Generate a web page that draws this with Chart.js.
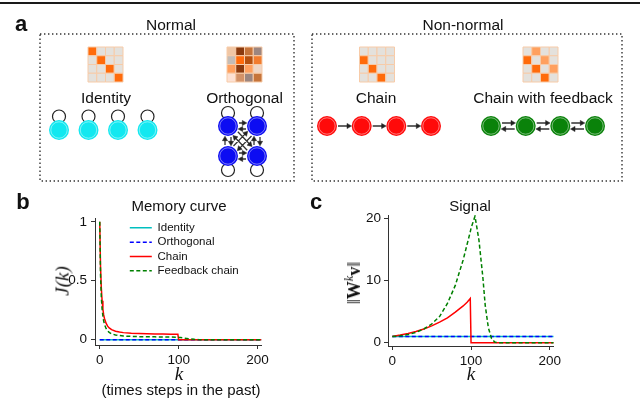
<!DOCTYPE html>
<html>
<head>
<meta charset="utf-8">
<title>Normal and non-normal networks: memory curve and signal</title>
<script src="https://cdn.jsdelivr.net/npm/chart.js@4.4.1/dist/chart.umd.min.js"></script>
<style>
  html, body { margin: 0; padding: 0; background: #fff; }
  body { position: relative; width: 640px; height: 399px; overflow: hidden;
         font-family: "Liberation Sans", Arial, sans-serif; color: #111; }
  .box { position: absolute; }
  .txt { position: absolute; transform: translate(-50%, -50%); white-space: nowrap; line-height: 1; }
  .panel { font-weight: bold; font-size: 22px; }
  .name { font-size: 15.5px; }
  .title { font-size: 15px; }
  .math { font-family: "Liberation Serif", "DejaVu Serif", serif; font-style: italic; font-size: 19px; }
  .rot { transform: translate(-50%, -50%) rotate(-90deg); }
  .norm { font-family: "Liberation Serif", "DejaVu Serif", serif; font-size: 18px; }
  .norm sup { font-size: 12px; font-style: italic; vertical-align: 7px; }
</style>
</head>
<body>
<div class="box" style="left:0;top:2px;width:640px;height:2px;background:#1a1a1a"></div>

<div class="box" style="left:0;top:0;width:640px;height:190px"><canvas id="netChart"></canvas></div>
<div class="box" style="left:0;top:185px;width:320px;height:214px"><canvas id="memChart"></canvas></div>
<div class="box" style="left:320px;top:185px;width:320px;height:214px"><canvas id="sigChart"></canvas></div>

<div class="txt panel" style="left:21px;top:24px">a</div>
<div class="txt name" style="left:171px;top:25px">Normal</div>
<div class="txt name" style="left:463px;top:25px">Non-normal</div>
<div class="txt name" style="left:106px;top:98px">Identity</div>
<div class="txt name" style="left:244.5px;top:98px">Orthogonal</div>
<div class="txt name" style="left:376px;top:98px">Chain</div>
<div class="txt name" style="left:543px;top:98px">Chain with feedback</div>

<div class="txt panel" style="left:23px;top:202px">b</div>
<div class="txt panel" style="left:316px;top:202px">c</div>
<div class="txt title" style="left:179px;top:205px">Memory curve</div>
<div class="txt title" style="left:470px;top:205px">Signal</div>
<div class="txt math rot" style="left:62px;top:281px">J(k)</div>
<div class="txt math" style="left:179px;top:373px">k</div>
<div class="txt title" style="left:181px;top:389px">(times steps in the past)</div>
<div class="txt math" style="left:471px;top:373px">k</div>
<div class="txt norm rot" style="left:353px;top:283px">‖<b>W</b><sup>k</sup><b>v</b>‖</div>

<script>
// ---- panel a: connectivity matrices (shade index, 0 = no connection) ----
const identityW   = [[1,0,0,0],[0,1,0,0],[0,0,1,0],[0,0,0,1]];
const orthogonalW = [[3,4,5,6],[7,1,8,12],[2,4,2,11],[9,10,6,5]];
const chainW      = [[0,0,0,0],[1,0,0,0],[0,1,0,0],[0,0,1,0]];
const feedbackW   = [[0,2,0,0],[1,0,2,0],[0,1,0,2],[0,0,1,0]];

// ---- panel b: memory curve J(k) ----
const memK        = [0,1,2,3,4,5,6,8,10,12,15,20,25,30,40,50,60,70,80,90,99,100,105,110,115,120,125,130,205];
const memChain    = [1,0.62,0.44,0.33,0.26,0.21,0.18,0.14,0.115,0.1,0.085,0.072,0.065,0.06,0.055,0.052,0.05,0.049,0.048,0.047,0.046,0,0,0,0,0,0,0,0];
const memFeedback = [1,0.55,0.36,0.26,0.2,0.16,0.13,0.095,0.075,0.062,0.05,0.04,0.035,0.031,0.028,0.026,0.025,0.024,0.023,0.022,0.021,0.02,0.016,0.011,0.006,0.003,0.001,0,0];
const memFlatK    = [0,205];
const memIdentity   = [0,0];
const memOrthogonal = [0,0];

// ---- panel c: signal ||W^k v|| ----
const sigK        = [0,10,20,30,40,50,60,70,80,90,95,99,100,105,110,115,118,122,126,130,135,205];
const sigChain    = [1,1.22,1.49,1.8,2.2,2.7,3.3,4.0,4.9,5.9,6.5,7.1,0,0,0,0,0,0,0,0,0,0];
const sigFeedback = [1,1.1,1.3,1.65,2.2,3.0,4.2,6.3,9.2,13.3,15.8,17.8,18.4,20.3,16.5,10.5,6.0,2.4,0.7,0.1,0,0];
const sigFlatK    = [0,205];
const sigIdentity   = [1,1];
const sigOrthogonal = [1,1];

// ---- tick labels ----
const kTicks   = [0,100,200];
const memTicks = [0,0.5,1];
const sigTicks = [0,10,20];

// ---- styles ----
const matrixPalette = ['#e4e1dc','#ff6b0b','#ffa05e','#f0c6a4','#8a3a0e','#c6743a','#9c8680',
                       '#c4bcb6','#b5500f','#fde1d3','#d39268','#efd6c5','#f27c2e'];
const C_ID = '#00bfbf', C_ORTH = '#0000ff', C_CHAIN = '#ff0000', C_FB = '#008000';
const FONT = "'Liberation Sans', Arial, sans-serif";

function zip(xs, ys) { return xs.map((x, i) => ({ x: x, y: ys[i] })); }

// ------------------------------------------------------------------ panel a
const NODE_R = 10;
const CELL = 8.75;
const networks = [
  { W: identityW,   color: '#12e8f0', mx: 88,    my: 47, nx: [59, 88.5, 118, 147.5],   ny: [130,130,130,130], loopDy: [-13.5,-13.5,-13.5,-13.5] },
  { W: orthogonalW, color: '#0c0cf2', mx: 227,   my: 47, nx: [228, 257, 228, 257],     ny: [126,126,156,156], loopDy: [-13,-13,14,14] },
  { W: chainW,      color: '#ff0a0a', mx: 359.5, my: 47, nx: [327, 361.7, 396.3, 431], ny: [126,126,126,126], loopDy: [0,0,0,0] },
  { W: feedbackW,   color: '#0a820a', mx: 523,   my: 47, nx: [491, 525.7, 560.3, 595], ny: [126,126,126,126], loopDy: [0,0,0,0] }
];

const cellPts = [], cellCols = [];
const edgePts = [], arrowPts = [], arrowRot = [];
const loopPts = [], nodePts = [], nodeCols = [];

networks.forEach(net => {
  const W = net.W, n = W.length;
  for (let r = 0; r < n; r++) {
    for (let c = 0; c < n; c++) {
      cellPts.push({ x: net.mx + (c + 0.5) * CELL, y: net.my + (r + 0.5) * CELL });
      cellCols.push(matrixPalette[W[r][c]]);
    }
  }
  for (let j = 0; j < n; j++) {        // source node
    for (let i = 0; i < n; i++) {      // target node
      if (!W[i][j]) continue;
      if (i === j) { loopPts.push({ x: net.nx[i], y: net.ny[i] + net.loopDy[i] }); continue; }
      const dx = net.nx[i] - net.nx[j], dy = net.ny[i] - net.ny[j];
      const len = Math.hypot(dx, dy), ux = dx / len, uy = dy / len;
      const off = W[j][i] ? 3 : 0;
      const ox = uy * off, oy = -ux * off;
      edgePts.push({ x: net.nx[j] + ux * (NODE_R + 1) + ox, y: net.ny[j] + uy * (NODE_R + 1) + oy });
      edgePts.push({ x: net.nx[i] - ux * (NODE_R + 3.5) + ox, y: net.ny[i] - uy * (NODE_R + 3.5) + oy });
      edgePts.push({ x: null, y: null });
      arrowPts.push({ x: net.nx[i] - ux * (NODE_R + 3.2) + ox, y: net.ny[i] - uy * (NODE_R + 3.2) + oy });
      arrowRot.push(Math.atan2(uy, ux) * 180 / Math.PI + 90);
    }
  }
  net.nx.forEach((x, k) => { nodePts.push({ x: x, y: net.ny[k] }); nodeCols.push(net.color); });
});

const boxPts = [
  { x: 40, y: 34 }, { x: 294, y: 34 }, { x: 294, y: 181 }, { x: 40, y: 181 }, { x: 40, y: 34 },
  { x: null, y: null },
  { x: 312, y: 34 }, { x: 622, y: 34 }, { x: 622, y: 181 }, { x: 312, y: 181 }, { x: 312, y: 34 }
];

new Chart(document.getElementById('netChart'), {
  type: 'line',
  data: {
    datasets: [
      { data: boxPts, borderColor: '#333', borderWidth: 1.4, borderDash: [1.4, 2.6], pointRadius: 0, order: 9 },
      { data: loopPts, showLine: false, pointStyle: 'circle', pointRadius: 6.5,
        pointBackgroundColor: 'rgba(0,0,0,0)', pointBorderColor: '#222', pointBorderWidth: 1.2, order: 8 },
      { data: edgePts, borderColor: '#333', borderWidth: 1.3, pointRadius: 0, order: 7 },
      { data: nodePts, showLine: false, pointRadius: NODE_R, pointBackgroundColor: nodeCols,
        pointBorderColor: nodeCols, pointBorderWidth: 0, order: 6 },
      { data: nodePts, showLine: false, pointRadius: 8.2, pointBackgroundColor: 'rgba(0,0,0,0)',
        pointBorderColor: 'rgba(255,255,255,0.45)', pointBorderWidth: 1, order: 5 },
      { data: arrowPts, showLine: false, pointStyle: 'triangle', pointRadius: 3, pointRotation: arrowRot,
        pointBackgroundColor: '#222', pointBorderColor: '#222', pointBorderWidth: 0.5, order: 4 },
      { data: cellPts, showLine: false, pointStyle: 'rect', pointRadius: CELL / Math.SQRT2,
        pointBackgroundColor: cellCols, pointBorderColor: '#f7cba8', pointBorderWidth: 1, order: 3 }
    ]
  },
  options: {
    responsive: true, maintainAspectRatio: false, animation: false,
    events: [],
    layout: { padding: 0, autoPadding: false },
    scales: {
      x: { type: 'linear', min: 0, max: 640, display: false },
      y: { type: 'linear', min: 0, max: 190, reverse: true, display: false }
    },
    plugins: { legend: { display: false }, tooltip: { enabled: false } }
  }
});

// ------------------------------------------------------------------ panels b, c
function axis(min, max, tickVals, size, pad) {
  return {
    type: 'linear', min: min, max: max,
    afterBuildTicks: s => { s.ticks = tickVals.map(v => ({ value: v })); },
    afterFit: s => { if (s.isHorizontal()) s.height = size; else s.width = size; },
    grid: { drawOnChartArea: false, drawTicks: true, tickLength: 4, color: '#333', lineWidth: 1 },
    border: { display: true, color: '#333', width: 1 },
    ticks: { autoSkip: false, maxRotation: 0, padding: pad, color: '#111',
             font: { family: FONT, size: 13.5 }, callback: v => String(v) }
  };
}

function series(label, xs, ys, color, dashed, order) {
  return { label: label, data: zip(xs, ys), borderColor: color, backgroundColor: color, borderWidth: 1.5,
           borderDash: dashed ? [4, 2.5] : [], pointRadius: 0, tension: 0, fill: false, order: order };
}

// put the in-plot legend where the original sits (relative to the plot area)
const legendShift = {
  id: 'legendShift',
  afterLayout(chart, args, opts) {
    const lg = chart.legend, area = chart.chartArea;
    if (lg && opts.dx !== undefined) {
      lg.left = area.left + opts.dx;
      lg.right = area.right;
      lg.top = area.top + opts.dy;
      lg.bottom = area.bottom;
    }
  }
};

new Chart(document.getElementById('memChart'), {
  type: 'line',
  data: {
    datasets: [
      series('Identity', memFlatK, memIdentity, C_ID, false, 4),
      series('Orthogonal', memFlatK, memOrthogonal, C_ORTH, true, 3),
      series('Chain', memK, memChain, C_CHAIN, false, 2),
      series('Feedback chain', memK, memFeedback, C_FB, true, 1)
    ]
  },
  options: {
    responsive: true, maintainAspectRatio: false, animation: false, events: [],
    layout: { padding: { left: 50, right: 58.5, top: 33.3, bottom: 24 }, autoPadding: false },
    scales: { x: axis(-6, 205, kTicks, 30, 3), y: axis(-0.045, 1.03, memTicks, 45, 4) },
    plugins: {
      tooltip: { enabled: false },
      legend: {
        position: 'chartArea', align: 'start',
        labels: {
          usePointStyle: true, pointStyle: 'line', pointStyleWidth: 22, padding: 2.8,
          color: '#111', font: { family: FONT, size: 11.5 },
          generateLabels(chart) {
            return chart.data.datasets.map((ds, i) => ({
              text: ds.label, datasetIndex: i, hidden: false, fontColor: '#111',
              strokeStyle: ds.borderColor, fillStyle: ds.borderColor, lineWidth: ds.borderWidth,
              lineDash: ds.borderDash, lineCap: 'butt', pointStyle: 'line'
            }));
          }
        }
      },
      legendShift: { dx: 32, dy: 1 }
    }
  },
  plugins: [legendShift]
});

new Chart(document.getElementById('sigChart'), {
  type: 'line',
  data: {
    datasets: [
      series('Identity', sigFlatK, sigIdentity, C_ID, false, 4),
      series('Orthogonal', sigFlatK, sigOrthogonal, C_ORTH, true, 3),
      series('Chain', sigK, sigChain, C_CHAIN, false, 2),
      series('Feedback chain', sigK, sigFeedback, C_FB, true, 1)
    ]
  },
  options: {
    responsive: true, maintainAspectRatio: false, animation: false, events: [],
    layout: { padding: { left: 30, right: 86.3, top: 30, bottom: 23 }, autoPadding: false },
    scales: { x: axis(-5.5, 205, kTicks, 30, 3), y: axis(-0.53, 20.5, sigTicks, 38, 3) },
    plugins: { legend: { display: false }, tooltip: { enabled: false } }
  }
});
</script>
</body>
</html>
